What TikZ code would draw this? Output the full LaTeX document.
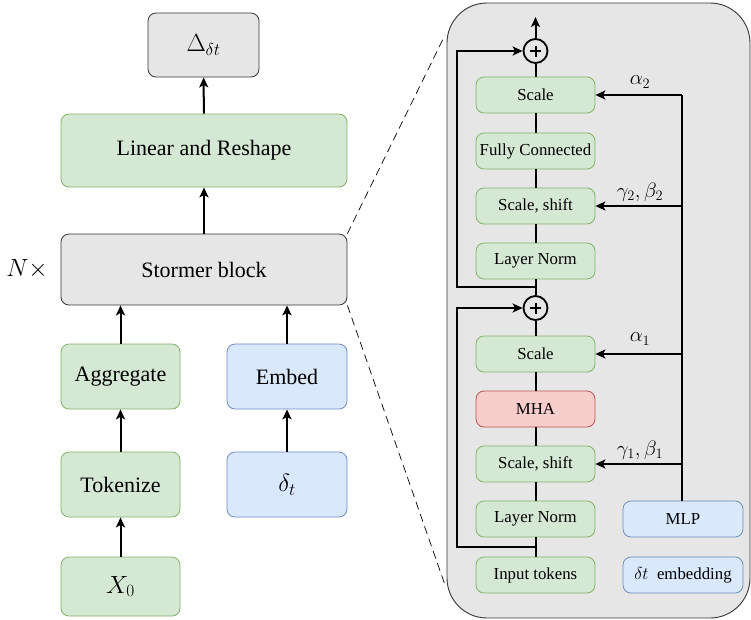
\documentclass[tikz,border=0pt]{standalone}
\usepackage[no-math]{fontspec}
\setmainfont{Liberation Serif}
\usetikzlibrary{arrows.meta}
\definecolor{gfill}{HTML}{D5E8D4}
\definecolor{gline}{HTML}{82B366}
\definecolor{bfill}{HTML}{DAE8FC}
\definecolor{bline}{HTML}{6C8EBF}
\definecolor{rfill}{HTML}{F8CECC}
\definecolor{rline}{HTML}{B85450}
\definecolor{kfill}{HTML}{E6E6E6}
\definecolor{kline}{HTML}{363636}
\tikzset{
  base/.style={rectangle, rounded corners=8pt, line width=0.8pt, inner sep=0pt, align=center},
  gbox/.style={base, fill=gfill, draw=gline},
  bbox/.style={base, fill=bfill, draw=bline},
  rbox/.style={base, fill=rfill, draw=rline},
  kbox/.style={base, fill=kfill, draw=kline},
  lfont/.style={font=\fontsize{22}{26}\selectfont},
  mfont/.style={font=\fontsize{27}{31}\selectfont},
  rfont/.style={font=\fontsize{16.8}{19}\selectfont},
  lsz/.style={minimum width=#1, minimum height=65pt},
  rsz/.style={minimum width=119pt, minimum height=36pt},
  arr/.style={line width=2pt, -{Stealth[length=10pt,width=9pt,inset=2.5pt]}},
  ln/.style={line width=2pt},
  plus/.style={circle, draw=black, line width=1.8pt, fill=kfill, minimum size=24pt, inner sep=0pt,
    path picture={\draw[line width=2pt] ([xshift=-5.5pt]path picture bounding box.center) -- ([xshift=5.5pt]path picture bounding box.center);
                  \draw[line width=2pt] ([yshift=-5.5pt]path picture bounding box.center) -- ([yshift=5.5pt]path picture bounding box.center);}},
  lab/.style={font=\fontsize{19.5}{22}\selectfont}
}
\begin{document}
\begin{tikzpicture}[x=1pt, y=-1pt]
\useasboundingbox (0,0) rectangle (751,619);
% left column
\node[kbox, minimum width=111pt, minimum height=64pt, mfont] (delta) at (203.5,45) {$\Delta_{\delta t}$};
\node[gbox, minimum width=286pt, minimum height=73pt, lfont] (lin) at (204,150.5) {Linear and Reshape};
\node[kbox, minimum width=286pt, minimum height=71pt, lfont] (storm) at (204,269.5) {Stormer block};
\node[font=\fontsize{23}{26}\selectfont] (nx) at (27,269.5) {$N\times$};
\node[gbox, lsz=119pt, lfont] (agg) at (120.5,376.5) {Aggregate};
\node[bbox, lsz=120pt, lfont] (emb) at (287,376.5) {Embed};
\node[gbox, lsz=119pt, lfont] (tok) at (120.5,484.5) {Tokenize};
\node[bbox, lsz=120pt, mfont] (dlt) at (287,484.5) {$\delta_t$};
\node[gbox, minimum width=119pt, minimum height=59pt, mfont] (x0) at (120.5,586.5) {$X_0$};
\draw[arr] (lin) -- (delta);
\draw[arr] (storm) -- (lin);
\draw[arr] (agg.north) -- (agg.north |- storm.south);
\draw[arr] (emb.north) -- (emb.north |- storm.south);
\draw[arr] (tok) -- (agg);
\draw[arr] (dlt) -- (emb);
\draw[arr] (x0) -- (tok);
% right panel
\draw[kline, fill=kfill, line width=0.9pt, rounded corners=40pt] (447,3) rectangle (750,618);
\coordinate (zt) at (445,35);
\coordinate (zb) at (445,585);
\draw[dashed, dash pattern=on 8pt off 5pt, line width=0.7pt] (storm.north east) -- (zt);
\draw[dashed, dash pattern=on 8pt off 5pt, line width=0.7pt] (storm.south east) -- (zb);
\node[gbox, rsz, rfont] (s2) at (535.5,95) {Scale};
\node[gbox, rsz, rfont] (fc) at (535.5,151) {Fully Connected};
\node[gbox, rsz, rfont] (ss2) at (535.5,206) {Scale, shift};
\node[gbox, rsz, rfont] (ln2) at (535.5,261) {Layer Norm};
\node[plus] (p2) at (535.5,51) {};
\node[plus] (p1) at (535.5,308) {};
\node[gbox, rsz, rfont] (s1) at (535.5,354) {Scale};
\node[rbox, rsz, rfont] (mha) at (535.5,409) {MHA};
\node[gbox, rsz, rfont] (ss1) at (535.5,464) {Scale, shift};
\node[gbox, rsz, rfont] (ln1) at (535.5,519) {Layer Norm};
\node[gbox, rsz, rfont] (inp) at (535.5,575) {Input tokens};
\node[bbox, minimum width=120pt, minimum height=36pt, rfont] (mlp) at (683,519) {MLP};
\node[bbox, minimum width=120pt, minimum height=36pt, rfont] (emb2) at (683,575) {$\delta t$\ \ embedding};
\coordinate (out) at (535.5,17);
\draw[arr] (p2) -- (out);
\draw[ln] (inp) -- (ln1);
\draw[ln] (ln1) -- (ss1);
\draw[ln] (ss1) -- (mha);
\draw[ln] (mha) -- (s1);
\draw[ln] (s1) -- (p1);
\draw[ln] (p1) -- (ln2);
\draw[ln] (ln2) -- (ss2);
\draw[ln] (ss2) -- (fc);
\draw[ln] (fc) -- (s2);
\draw[ln] (s2) -- (p2);
\coordinate (j1) at (535.5,547);
\coordinate (l1) at (457,547);
\coordinate (j2) at (535.5,287);
\coordinate (l2) at (457,287);
\draw[arr] (j1) -- (l1) |- (p1);
\draw[arr] (j2) -- (l2) |- (p2);
% MLP conditioning
\coordinate (m2) at (682,95);
\coordinate (m2b) at (682,206);
\coordinate (m1) at (682,354);
\coordinate (m1b) at (682,464);
\draw[ln] (mlp.north -| m2) -- (m2);
\draw[arr] (m2) -- (s2);
\draw[arr] (m2b) -- (ss2);
\draw[arr] (m1) -- (s1);
\draw[arr] (m1b) -- (ss1);
\node[lab] (a2) at (640,82) {$\alpha_2$};
\node[lab] (g2) at (640,192) {$\gamma_2,\beta_2$};
\node[lab] (a1) at (640,339) {$\alpha_1$};
\node[lab] (g1) at (640,450) {$\gamma_1,\beta_1$};
\end{tikzpicture}
\end{document}
